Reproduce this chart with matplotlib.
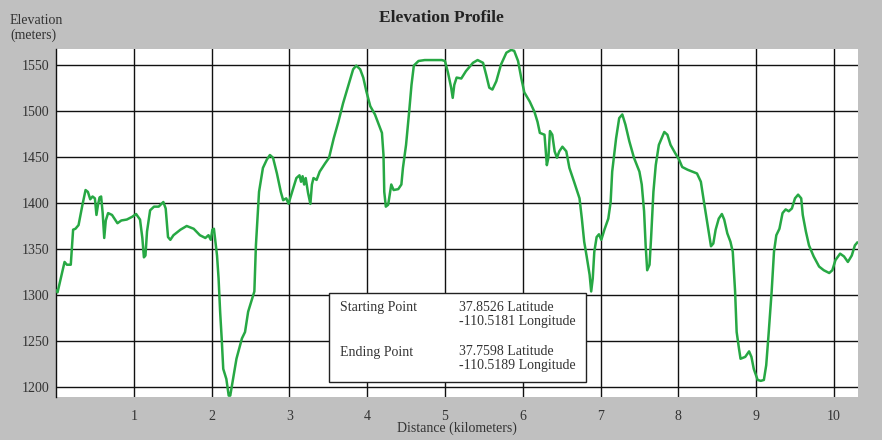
import matplotlib.pyplot as plt
from matplotlib.patches import Rectangle

plt.rcParams['font.family'] = ['Liberation Serif', 'DejaVu Serif']

# distance (km) and elevation (m)
dist = [0.00, 0.02, 0.05, 0.11, 0.14, 0.19, 0.22, 0.25, 0.29, 0.34, 0.38, 0.41,
        0.44, 0.47, 0.50, 0.52, 0.54, 0.56, 0.58, 0.60, 0.62, 0.64, 0.67, 0.72,
        0.79, 0.84, 0.91, 0.98, 1.03, 1.08, 1.11, 1.13, 1.15, 1.17, 1.21, 1.26,
        1.32, 1.38, 1.41, 1.44, 1.47, 1.51, 1.60, 1.68, 1.77, 1.85, 1.92, 1.96,
        1.99, 2.01, 2.03, 2.05, 2.07, 2.09, 2.11, 2.13, 2.15, 2.19, 2.22, 2.24,
        2.27, 2.32, 2.39, 2.43, 2.47, 2.52, 2.55, 2.57, 2.61, 2.66, 2.71, 2.75,
        2.79, 2.84, 2.89, 2.92, 2.96, 2.99, 3.01, 3.05, 3.09, 3.13, 3.15, 3.17,
        3.19, 3.21, 3.24, 3.27, 3.29, 3.31, 3.35, 3.39, 3.46, 3.51, 3.57, 3.63,
        3.69, 3.76, 3.82, 3.86, 3.91, 3.95, 3.99, 4.04, 4.10, 4.14, 4.19, 4.21,
        4.22, 4.24, 4.27, 4.29, 4.31, 4.34, 4.40, 4.44, 4.46, 4.50, 4.54, 4.57,
        4.60, 4.66, 4.74, 4.85, 4.96, 5.00, 5.04, 5.08, 5.10, 5.12, 5.15, 5.21,
        5.27, 5.36, 5.42, 5.49, 5.53, 5.57, 5.61, 5.66, 5.72, 5.79, 5.85, 5.89,
        5.94, 5.98, 6.02, 6.09, 6.15, 6.19, 6.22, 6.28, 6.31, 6.33, 6.35, 6.38,
        6.41, 6.44, 6.47, 6.51, 6.56, 6.60, 6.66, 6.73, 6.76, 6.79, 6.82, 6.86,
        6.88, 6.90, 6.92, 6.95, 6.98, 7.01, 7.05, 7.10, 7.13, 7.15, 7.20, 7.24,
        7.28, 7.32, 7.37, 7.43, 7.50, 7.53, 7.56, 7.58, 7.60, 7.63, 7.65, 7.68,
        7.71, 7.75, 7.82, 7.86, 7.90, 7.96, 8.01, 8.05, 8.12, 8.18, 8.24, 8.29,
        8.33, 8.37, 8.42, 8.45, 8.48, 8.52, 8.56, 8.59, 8.63, 8.67, 8.70, 8.73,
        8.75, 8.78, 8.80, 8.86, 8.91, 8.94, 8.97, 9.02, 9.06, 9.10, 9.13, 9.16,
        9.20, 9.23, 9.26, 9.30, 9.34, 9.38, 9.42, 9.46, 9.50, 9.54, 9.58, 9.60,
        9.64, 9.68, 9.74, 9.81, 9.87, 9.94, 9.98, 10.02, 10.08, 10.13, 10.18,
        10.23, 10.27, 10.30]
elev = [1305, 1303, 1314, 1336, 1333, 1333, 1371, 1372, 1376, 1398, 1414, 1412,
        1404, 1407, 1405, 1387, 1398, 1406, 1407, 1389, 1362, 1381, 1389, 1387,
        1378, 1381, 1382, 1385, 1388, 1382, 1362, 1341, 1343, 1369, 1392, 1396,
        1396, 1401, 1394, 1363, 1360, 1365, 1371, 1375, 1372, 1365, 1362, 1365,
        1360, 1371, 1372, 1358, 1343, 1318, 1282, 1253, 1220, 1209, 1191, 1191,
        1206, 1231, 1253, 1260, 1282, 1296, 1304, 1354, 1412, 1438, 1447, 1452,
        1449, 1432, 1412, 1403, 1405, 1399, 1405, 1416, 1427, 1430, 1423, 1429,
        1420, 1427, 1411, 1399, 1420, 1427, 1425, 1434, 1443, 1449, 1470, 1488,
        1508, 1528, 1545, 1549, 1545, 1536, 1521, 1505, 1496, 1487, 1476, 1452,
        1412, 1396, 1398, 1409, 1420, 1414, 1415, 1420, 1438, 1463, 1499, 1528,
        1549, 1554, 1555, 1555, 1555, 1554, 1541, 1525, 1514, 1528, 1536, 1535,
        1543, 1552, 1555, 1552, 1539, 1525, 1523, 1532, 1550, 1563, 1566, 1565,
        1554, 1536, 1520, 1510, 1499, 1488, 1476, 1474, 1441, 1449, 1478, 1474,
        1456, 1449, 1456, 1461, 1456, 1438, 1423, 1405, 1383, 1358, 1343, 1322,
        1304, 1318, 1347, 1363, 1366, 1360, 1371, 1383, 1401, 1434, 1470, 1492,
        1496, 1485, 1467, 1449, 1434, 1420, 1391, 1354, 1327, 1333, 1362, 1412,
        1441, 1463, 1477, 1474, 1463, 1454, 1447, 1439, 1436, 1434, 1432, 1423,
        1401, 1380, 1353, 1356, 1371, 1383, 1388, 1382, 1367, 1358, 1347, 1304,
        1260, 1242, 1231, 1233, 1239, 1233, 1220, 1208, 1207, 1208, 1224, 1257,
        1304, 1347, 1365, 1372, 1389, 1393, 1391, 1394, 1405, 1409, 1405, 1387,
        1369, 1354, 1342, 1331, 1327, 1324, 1327, 1338, 1345, 1342, 1336,
        1343, 1354, 1357]

x_ticks = [1, 2, 3, 4, 5, 6, 7, 8, 9, 10]
y_ticks = [1200, 1250, 1300, 1350, 1400, 1450, 1500, 1550]

info_labels = ['Starting Point', 'Ending Point']
info_values = ['37.8526 Latitude\n-110.5181 Longitude',
               '37.7598 Latitude\n-110.5189 Longitude']

W, H = 882, 440
fig = plt.figure(figsize=(W / 100, H / 100), dpi=100, facecolor='#c0c0c0')
ax = fig.add_axes([56 / W, 1 - 397 / H, (858 - 56) / W, (397 - 49) / H])
ax.set_facecolor('white')

ax.plot(dist, elev, color='#27a844', lw=1.8, zorder=3)

ax.set_xlim(0, 10.31)
ax.set_ylim(1189.5, 1567)
ax.set_xticks(x_ticks)
ax.set_yticks(y_ticks)
ax.tick_params(length=0, labelsize=10, labelcolor='#333333')
ax.tick_params(axis='x', pad=9)
ax.tick_params(axis='y', pad=5)
ax.grid(True, color='#111111', lw=1.0)
ax.set_axisbelow(True)
for s in ['top', 'right', 'bottom']:
    ax.spines[s].set_visible(False)
ax.spines['left'].set_color('#111111')
ax.spines['left'].set_linewidth(1.0)

def fx(px):
    return px / W

def fy(py):
    return 1 - py / H

fig.text(fx(441), fy(18), 'Elevation Profile', ha='center', va='center',
         fontsize=12.5, fontweight='bold', color='#222222')
fig.text(fx(10), fy(20), 'Elevation', ha='left', va='center', fontsize=10, color='#333333')
fig.text(fx(10), fy(35), '(meters)', ha='left', va='center', fontsize=10, color='#333333')
fig.text(fx(457), fy(428), 'Distance (kilometers)', ha='center', va='center',
         fontsize=10, color='#333333')

# info box
box = Rectangle((fx(329), fy(382)), fx(586) - fx(329), fy(293) - fy(382),
                transform=fig.transFigure, facecolor='white', edgecolor='#222222',
                lw=1.0, zorder=5)
ax.add_patch(box)
box.set_clip_on(False)
for i, (lab, val) in enumerate(zip(info_labels, info_values)):
    y0 = 308 + i * 44
    ax.text(fx(340), fy(y0), lab, transform=fig.transFigure, ha='left', va='center',
            fontsize=10, color='#333333', zorder=6)
    ax.text(fx(459), fy(y0 - 7), val, transform=fig.transFigure, ha='left', va='top',
            fontsize=10, color='#333333', zorder=6, linespacing=1.1)

fig.savefig('out.png', dpi=100, facecolor=fig.get_facecolor())
